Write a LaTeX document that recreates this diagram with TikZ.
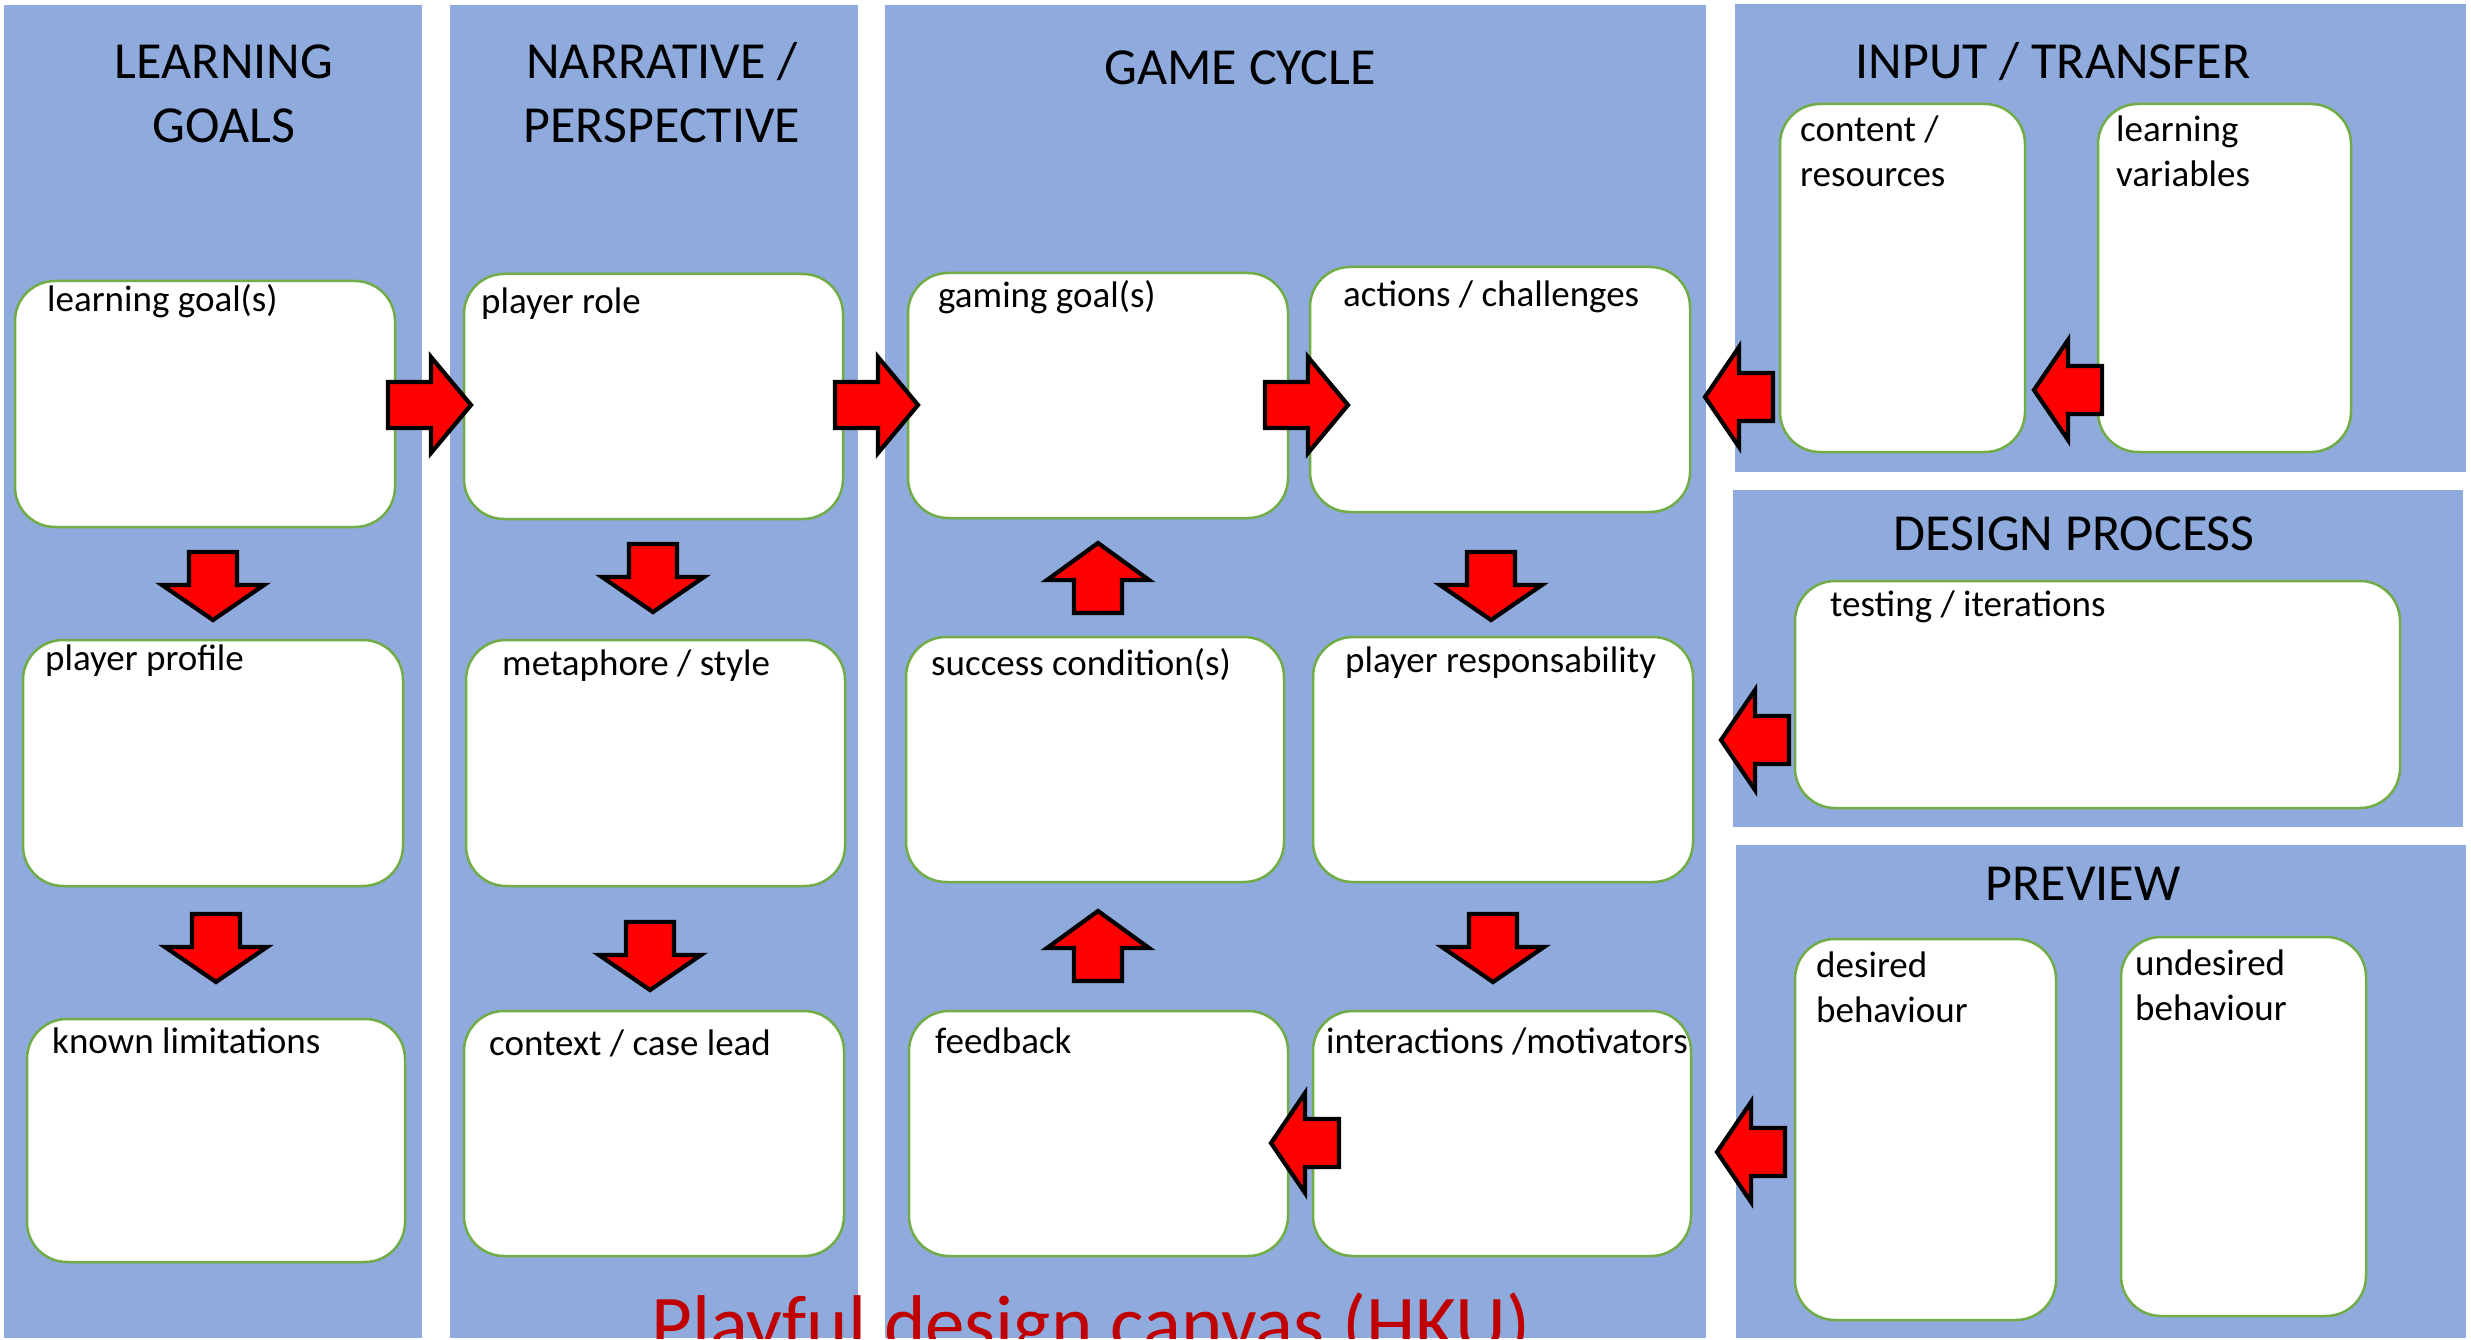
\documentclass[tikz,border=0pt]{standalone}
\usepackage{fontspec}
\setmainfont{Carlito}
\usetikzlibrary{fit}
\definecolor{panelblue}{HTML}{8FAADC}
\definecolor{boxgreen}{HTML}{70AD47}
\definecolor{titlered}{HTML}{C00000}
\begin{document}
\begin{tikzpicture}[x=1pt,y=-1pt,
  panel/.style={fill=panelblue, draw=none},
  box/.style={draw=boxgreen, line width=2.5pt, fill=white, rounded corners=40pt, inner sep=0pt},
  head/.style={font=\fontsize{52}{64}\selectfont, align=center, inner sep=0pt},
  lbl/.style={font=\fontsize{37}{45}\selectfont, align=left, inner sep=0pt, anchor=base west},
  blockarrow/.style={fill=red, draw=black, line width=4.2pt, line join=miter},
  pics/arrR/.style={code={\draw[blockarrow] (-43,-23) -- (0,-23) -- (0,-48) -- (40,0) -- (0,48) -- (0,23) -- (-43,23) -- cycle;}},
  pics/arrL/.style={code={\draw[blockarrow] (34,-24) -- (0,-24) -- (0,-50) -- (-34,0) -- (0,50) -- (0,24) -- (34,24) -- cycle;}},
  pics/arrD/.style={code={\draw[blockarrow] (-24,-33) -- (24,-33) -- (24,0) -- (51,0) -- (0,35) -- (-51,0) -- (-24,0) -- cycle;}},
  pics/arrU/.style={code={\draw[blockarrow] (-24,33) -- (24,33) -- (24,0) -- (51,0) -- (0,-37) -- (-51,0) -- (-24,0) -- cycle;}},
]
\useasboundingbox (0,0) rectangle (2471,1340);
\fill[white] (0,0) rectangle (2471,1340);

% column panels
\fill[panel] (4,5) rectangle (422,1338);
\fill[panel] (450,5) rectangle (858,1338);
\fill[panel] (885,5) rectangle (1706,1338);
\fill[panel] (1735,4) rectangle (2466,472);
\fill[panel] (1733,490) rectangle (2463,827);
\fill[panel] (1736,845) rectangle (2466,1338);

% panel headings (base anchor sits on the last line)
\node[head, anchor=base] (hLG) at (224,143) {LEARNING\\GOALS};
\node[head, anchor=base] (hNP) at (662,143) {NARRATIVE /\\PERSPECTIVE};
\node[head, anchor=base] (hGC) at (1240,85) {GAME CYCLE};
\node[head, anchor=base] (hIT) at (2053,79) {INPUT / TRANSFER};
\node[head, anchor=base] (hDP) at (2074,550) {DESIGN PROCESS};
\node[head, anchor=base] (hPV) at (2083,900) {PREVIEW};

% cards
\node[box, fit={(15,281) (395,527)}] (lg) {};
\node[box, fit={(23,640) (403,886)}] (pp) {};
\node[box, fit={(27,1019) (405,1262)}] (kl) {};
\node[box, fit={(464,274) (843,519)}] (pr) {};
\node[box, fit={(466,640) (845,886)}] (ms) {};
\node[box, fit={(464,1011) (844,1256)}] (cl) {};
\node[box, fit={(908,273) (1288,518)}] (gg) {};
\node[box, fit={(1310,267) (1690,512)}] (ac) {};
\node[box, fit={(906,637) (1284,882)}] (sc) {};
\node[box, fit={(1313,637) (1693,882)}] (rs) {};
\node[box, fit={(909,1011) (1288,1256)}] (fb) {};
\node[box, fit={(1313,1011) (1691,1256)}] (im) {};
\node[box, fit={(1780,104) (2025,452)}] (ct) {};
\node[box, fit={(2098,104) (2351,452)}] (lv) {};
\node[box, fit={(1795,581) (2400,808)}] (ti) {};
\node[box, fit={(1795,939) (2056,1320)}] (de) {};
\node[box, fit={(2121,937) (2366,1316)}] (ud) {};

% card labels
\node[lbl] (lg-t) at (47,312) {learning goal(s)};
\node[lbl] (pp-t) at (45,670) {player profile};
\node[lbl] (kl-t) at (52,1053) {known limitations};
\node[lbl] (pr-t) at (481,314) {player role};
\node[lbl] (ms-t) at (502,675) {metaphore / style};
\node[lbl] (cl-t) at (489,1055) {context / case lead};
\node[lbl] (gg-t) at (938,308) {gaming goal(s)};
\node[lbl] (ac-t) at (1343,307) {actions / challenges};
\node[lbl] (sc-t) at (931,675) {success condition(s)};
\node[lbl] (rs-t) at (1345,672) {player responsability};
\node[lbl] (fb-t) at (935,1053) {feedback};
\node[lbl] (im-t) at (1326,1053) {interactions /motivators};
\node[lbl] (ct-t) at (1800,187) {content /\\resources};
\node[lbl] (lv-t) at (2116,187) {learning\\variables};
\node[lbl] (ti-t) at (1830,616) {testing / iterations};
\node[lbl] (de-t) at (1816,1022) {desired\\behaviour};
\node[lbl] (ud-t) at (2135,1020) {undesired\\behaviour};

% block arrows
\pic at (431,405) {arrR};
\pic at (878,405) {arrR};
\pic at (1308,405) {arrR};
\pic at (213,585) {arrD};
\pic at (216,947) {arrD};
\pic at (653,577) {arrD};
\pic at (650,955) {arrD};
\pic at (1491,585) {arrD};
\pic at (1493,947) {arrD};
\pic at (1098,580) {arrU};
\pic at (1098,948) {arrU};
\pic at (1305,1143) {arrL};
\pic at (1751,1152) {arrL};
\pic at (1739,397) {arrL};
\pic at (2068,390) {arrL};
\pic at (1755,740) {arrL};

% footer title, cut by the lower edge
\begin{scope}
\clip (0,0) rectangle (2471,1338);
\node[font=\fontsize{79}{90}\selectfont, text=titlered, anchor=base west, inner sep=0pt] (title) at (651,1350) {Playful design canvas (HKU)};
\end{scope}
\end{tikzpicture}
\end{document}
